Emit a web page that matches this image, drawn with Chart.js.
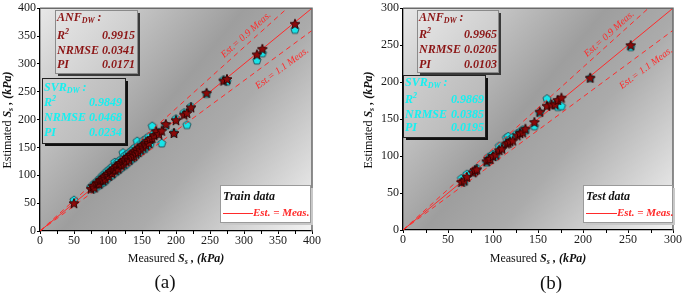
<!DOCTYPE html>
<html>
<head>
<meta charset="utf-8">
<script src="https://cdn.jsdelivr.net/npm/chart.js@4"></script>
<style>
  body { margin: 0; background: #fff; width: 685px; height: 296px; overflow: hidden; position: relative; }
  .panel { position: absolute; top: 0; width: 342px; height: 296px; }
</style>
</head>
<body>
<div class="panel" style="left:0"><canvas id="train-chart" width="342" height="296"></canvas></div>
<div class="panel" style="left:343px"><canvas id="test-chart" width="342" height="296"></canvas></div>

<script>
  // ---- data ----
  const trainMeasured = [50, 75, 78, 80, 83, 85, 87, 88, 90, 92, 93, 95, 96, 98, 100, 101, 103, 104, 106, 107,
    108, 110, 111, 112, 114, 115, 116, 118, 119, 120, 122, 123, 124, 125, 127, 128, 130, 131, 132, 134,
    135, 137, 138, 140, 141, 143, 144, 146, 148, 150, 152, 154, 156, 158, 160, 162, 165, 168, 171, 175,
    179, 185, 197, 200, 212, 216, 222, 245, 270, 275, 319, 327, 375];
  const trainANF = [50, 76, 81, 78, 85, 87, 85, 91, 92, 95, 91, 98, 94, 101, 103, 99, 106, 107, 104, 110,
    111, 113, 109, 116, 117, 112, 120, 121, 122, 118, 126, 121, 128, 128, 125, 132, 133, 128, 136, 137,
    133, 141, 135, 144, 139, 147, 142, 150, 146, 154, 150, 157, 154, 162, 158, 165, 167, 172, 179, 174,
    180, 192, 176, 199, 209, 212, 222, 248, 270, 273, 317, 327, 372];
  const trainSVR = [56, 80, 76, 86, 80, 91, 83, 95, 86, 100, 88, 103, 91, 107, 96, 110, 99, 113, 101, 117,
    104, 124, 119, 107, 123, 110, 126, 113, 129, 115, 141, 131, 118, 136, 121, 138, 125, 141, 127, 144,
    130, 147, 132, 151, 136, 162, 152, 141, 157, 145, 163, 148, 166, 153, 170, 156, 189, 176, 175, 178,
    158, 190, 177, 202, 213, 191, 224, 247, 272, 269, 307, 320, 362];

  const testMeasured = [65, 68, 71, 78, 80, 82, 93, 95, 97, 100, 103, 107, 110, 115, 117, 119, 122, 127, 130, 133,
    136, 146, 152, 160, 165, 169, 172, 176, 208, 253];
  const testANF = [65, 67, 72, 78, 81, 82, 93, 96, 96, 100, 102, 108, 110, 117, 118, 120, 121, 128, 131, 132,
    137, 146, 160, 168, 170, 170, 176, 179, 206, 250];
  const testSVR = [70, 66, 76, 80, 79, 84, 92, 99, 100, 103, 100, 114, 112, 125, 127, 123, 126, 131, 133, 136,
    135, 141, 159, 178, 170, 171, 167, 168, 206, 248];

  const trainTicks = [0, 50, 100, 150, 200, 250, 300, 350, 400];
  const testTicks = [0, 50, 100, 150, 200, 250, 300];
  const guideRatios = [1, 0.9, 1.1];

  const statNames = ["R", "NRMSE", "PI"];
  const trainANFStats = ["0.9915", "0.0341", "0.0171"];
  const trainSVRStats = ["0.9849", "0.0468", "0.0234"];
  const testANFStats = ["0.9965", "0.0205", "0.0103"];
  const testSVRStats = ["0.9869", "0.0385", "0.0195"];

  // ---- styling helpers ----
  const SERIF = "'Liberation Serif', 'Times New Roman', serif";
  const DARK_RED = "#8b1414";
  const CYAN = "#16f0f0";
  const RED = "#ff2a2a";

  function markerImage(kind, r, fill, stroke) {
    const s = Math.ceil(r * 2 + 3);
    const c = document.createElement("canvas");
    c.width = c.height = s;
    const g = c.getContext("2d");
    const n = kind === "star" ? 10 : 5;
    g.beginPath();
    for (let i = 0; i < n; i++) {
      const a = -Math.PI / 2 + (i * 2 * Math.PI) / n;
      const rr = kind === "star" && i % 2 ? r * 0.45 : r;
      const px = s / 2 + rr * Math.cos(a), py = s / 2 + 0.5 + rr * Math.sin(a);
      i ? g.lineTo(px, py) : g.moveTo(px, py);
    }
    g.closePath();
    g.fillStyle = fill;
    g.fill();
    g.lineWidth = 0.9;
    g.strokeStyle = stroke;
    g.stroke();
    return c;
  }
  const starImg = markerImage("star", 5.2, "#8b0a0a", "#2b0000");
  const pentaImg = markerImage("penta", 4.3, "#18e4e8", "#1d4c55");

  function pairs(xs, ys) { return xs.map((x, i) => ({ x: x, y: ys[i] })); }

  // draws a row of differently styled text pieces
  function runsWidth(ctx, runs) {
    let w = 0;
    runs.forEach(r => { ctx.font = r.font; w += ctx.measureText(r.t).width; });
    return w;
  }
  function drawRuns(ctx, runs, x, y, align) {
    let cx = x;
    if (align === "center") cx -= runsWidth(ctx, runs) / 2;
    if (align === "right") cx -= runsWidth(ctx, runs);
    ctx.textAlign = "left";
    ctx.textBaseline = "middle";
    runs.forEach(r => {
      ctx.font = r.font;
      ctx.fillStyle = r.color || "#111";
      ctx.fillText(r.t, cx, y + (r.dy || 0));
      cx += ctx.measureText(r.t).width;
    });
  }
  const bi = size => "italic bold " + size + "px " + SERIF;
  const rg = size => size + "px " + SERIF;

  function drawStatBox(ctx, b) {
    ctx.save();
    ctx.fillStyle = b.shadow;
    ctx.fillRect(b.x + 3, b.y + 3, b.w, b.h);
    const gr = ctx.createLinearGradient(b.x, b.y, b.x + b.w, b.y + b.h);
    gr.addColorStop(0, b.fill[0]);
    gr.addColorStop(1, b.fill[1]);
    ctx.fillStyle = gr;
    ctx.fillRect(b.x, b.y, b.w, b.h);
    ctx.strokeStyle = b.border;
    ctx.lineWidth = 1;
    ctx.strokeRect(b.x + 0.5, b.y + 0.5, b.w, b.h);
    drawRuns(ctx, [
      { t: b.name, font: bi(12), color: b.color },
      { t: "DW", font: bi(8), color: b.color, dy: 3 },
      { t: " :", font: bi(12), color: b.color }
    ], b.lx, b.rows[0], "left");
    statNames.forEach((name, i) => {
      const runs = [{ t: name, font: bi(12), color: b.color }];
      if (name === "R") runs.push({ t: "2", font: bi(8), color: b.color, dy: -4 });
      drawRuns(ctx, runs, b.lx, b.rows[i + 1], "left");
      drawRuns(ctx, [{ t: b.values[i], font: bi(12), color: b.color }], b.rx, b.rows[i + 1], "right");
    });
    ctx.restore();
  }

  const decor = {
    id: "decor",
    beforeDraw(chart) {
      const { ctx, chartArea: a } = chart;
      const gr = ctx.createLinearGradient(a.left, a.top, a.right, a.bottom);
      gr.addColorStop(0, "#e8e8e8");
      gr.addColorStop(0.45, "#9e9e9e");
      gr.addColorStop(0.62, "#ababab");
      gr.addColorStop(1, "#f4f4f4");
      ctx.save();
      ctx.fillStyle = gr;
      ctx.fillRect(a.left, a.top, a.right - a.left, a.bottom - a.top);
      ctx.restore();
    },
    afterDraw(chart, args, o) {
      const { ctx, chartArea: a } = chart;
      const xs = chart.scales.x, ys = chart.scales.y;
      ctx.save();
      // top / right frame
      ctx.strokeStyle = "#6a6a6a";
      ctx.lineWidth = 1.5;
      ctx.beginPath();
      ctx.moveTo(a.left, a.top);
      ctx.lineTo(a.right, a.top);
      ctx.lineTo(a.right, a.bottom);
      ctx.stroke();
      // minor ticks on x axis
      ctx.strokeStyle = "#000";
      ctx.lineWidth = 1;
      for (let i = 0; i < o.ticks.length - 1; i++) {
        const px = Math.round(xs.getPixelForValue((o.ticks[i] + o.ticks[i + 1]) / 2)) + 0.5;
        ctx.beginPath();
        ctx.moveTo(px, a.bottom);
        ctx.lineTo(px, a.bottom + 3);
        ctx.stroke();
      }
      // labels along the dashed lines
      const max = o.ticks[o.ticks.length - 1];
      o.lineLabels.forEach(l => {
        const ang = Math.atan2(ys.getPixelForValue(max * l.r) - ys.getPixelForValue(0),
          xs.getPixelForValue(max) - xs.getPixelForValue(0));
        ctx.save();
        ctx.translate(xs.getPixelForValue(l.x), ys.getPixelForValue(l.y));
        ctx.rotate(ang);
        ctx.font = "italic 10px " + SERIF;
        ctx.fillStyle = RED;
        ctx.textAlign = "center";
        ctx.textBaseline = "middle";
        ctx.fillText(l.text, 0, 0);
        ctx.restore();
      });
      // stat boxes
      o.boxes.forEach(b => drawStatBox(ctx, b));
      // legend box
      const L = o.legend;
      ctx.fillStyle = "#c8c8c8";
      ctx.fillRect(L.x + 3, L.y + 3, L.w, L.h);
      ctx.fillStyle = "#fff";
      ctx.fillRect(L.x, L.y, L.w, L.h);
      ctx.strokeStyle = "#9a9a9a";
      ctx.lineWidth = 1;
      ctx.strokeRect(L.x + 0.5, L.y + 0.5, L.w, L.h);
      drawRuns(ctx, [{ t: L.title, font: bi(12), color: "#111" }], L.x + 3, L.y + 12, "left");
      ctx.strokeStyle = RED;
      ctx.beginPath();
      ctx.moveTo(L.x + 3, L.y + 28.5);
      ctx.lineTo(L.x + L.line, L.y + 28.5);
      ctx.stroke();
      drawRuns(ctx, [{ t: "Est. = Meas.", font: bi(11), color: RED }], L.x + L.line, L.y + 28, "left");
      // axis titles
      const title = first => [
        { t: first, font: rg(12) },
        { t: "S", font: bi(12) },
        { t: "s", font: bi(8), dy: 3 },
        { t: " , ", font: bi(12) },
        { t: "(kPa)", font: bi(12) }
      ];
      drawRuns(ctx, title("Measured "), o.xTitle[0], o.xTitle[1], "center");
      ctx.save();
      ctx.translate(o.yTitle[0], o.yTitle[1]);
      ctx.rotate(-Math.PI / 2);
      drawRuns(ctx, title("Estimated "), 0, 0, "center");
      ctx.restore();
      drawRuns(ctx, [{ t: o.caption, font: rg(19), color: "#111" }], o.capPos[0], o.capPos[1], "center");
      ctx.restore();
    }
  };

  function makeChart(id, measured, anf, svr, ticks, o) {
    const max = ticks[ticks.length - 1];
    const guides = guideRatios.map((r, i) => ({
      data: [{ x: 0, y: 0 }, { x: max, y: max * r }],
      showLine: true,
      pointRadius: 0,
      borderColor: RED,
      borderWidth: 1,
      borderDash: i === 0 ? [] : [5, 4],
      order: 1
    }));
    const tickScale = (pos, size) => ({
      type: "linear",
      min: 0,
      max: max,
      afterBuildTicks: s => { s.ticks = ticks.map(v => ({ value: v })); },
      afterFit: s => { if (pos === "x") s.height = size; else s.width = size; },
      ticks: { color: "#1a1a1a", font: { family: SERIF, size: 12 }, padding: pos === "x" ? 0 : 1, maxRotation: 0 },
      grid: { drawOnChartArea: false, tickLength: 3, color: "#000" },
      border: { color: "#000", width: 1.3 }
    });
    return new Chart(document.getElementById(id), {
      type: "scatter",
      data: {
        datasets: [
          { data: pairs(measured, anf), pointStyle: starImg, pointRadius: 5, order: 0 },
          ...guides,
          { data: pairs(measured, svr), pointStyle: pentaImg, pointRadius: 5, order: 2 }
        ]
      },
      options: {
        responsive: false,
        animation: false,
        layout: { padding: { left: 0, top: 5, right: o.padRight, bottom: 0 } },
        plugins: { legend: { display: false }, tooltip: { enabled: false }, decor: o },
        scales: { x: tickScale("x", o.xHeight), y: tickScale("y", o.yWidth) }
      },
      plugins: [decor]
    });
  }

  makeChart("train-chart", trainMeasured, trainANF, trainSVR, trainTicks, {
    ticks: trainTicks, padRight: 30, xHeight: 65, yWidth: 40,
    lineLabels: [
      { text: "Est.= 0.9 Meas.", r: 1.1, x: 303, y: 352 },
      { text: "Est.= 1.1 Meas.", r: 0.9, x: 356, y: 292 }
    ],
    boxes: [
      { name: "ANF", values: trainANFStats, color: DARK_RED, x: 55, y: 10, w: 82, h: 63,
        lx: 57, rx: 135, rows: [18, 36, 51, 65], fill: ["#e6e6e6", "#c4c4c4"], border: "#8a8a8a", shadow: "#3a3a3a" },
      { name: "SVR", values: trainSVRStats, color: CYAN, x: 42, y: 78, w: 83, h: 65,
        lx: 44, rx: 122, rows: [88, 103, 118, 133], fill: ["#cfcfcf", "#b4b4b4"], border: "#222", shadow: "#111" }
    ],
    legend: { title: "Train data", x: 220, y: 185, w: 90, h: 37, line: 33 },
    xTitle: [176, 259], yTitle: [8, 120], caption: "(a)", capPos: [165, 283]
  });

  makeChart("test-chart", testMeasured, testANF, testSVR, testTicks, {
    ticks: testTicks, padRight: 12, xHeight: 66, yWidth: 60,
    lineLabels: [
      { text: "Est.= 0.9 Meas.", r: 1.1, x: 229, y: 265 },
      { text: "Est.= 1.1 Meas.", r: 0.9, x: 270, y: 219 }
    ],
    boxes: [
      { name: "ANF", values: testANFStats, color: DARK_RED, x: 74, y: 10, w: 81, h: 62,
        lx: 76, rx: 154, rows: [18, 35, 50, 65], fill: ["#e6e6e6", "#c4c4c4"], border: "#8a8a8a", shadow: "#3a3a3a" },
      { name: "SVR", values: testSVRStats, color: CYAN, x: 60, y: 75, w: 82, h: 62,
        lx: 62, rx: 141, rows: [83, 100, 115, 128], fill: ["#cfcfcf", "#b4b4b4"], border: "#222", shadow: "#111" }
    ],
    legend: { title: "Test data", x: 240, y: 185, w: 89, h: 37, line: 34 },
    xTitle: [195, 259], yTitle: [26, 120], caption: "(b)", capPos: [208, 284]
  });
</script>
</body>
</html>
